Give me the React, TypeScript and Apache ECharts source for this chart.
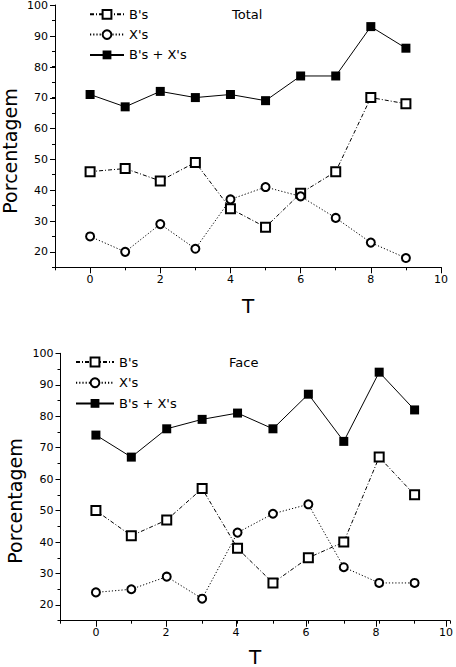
import React, { useEffect, useRef } from "react";
import * as echarts from "echarts";

// ---- data ----
const tValues = [0, 1, 2, 3, 4, 5, 6, 7, 8, 9];
const seriesNames = ["B's", "X's", "B's + X's"];
const panelTitles = ["Total", "Face"];
const totalB = [46, 47, 43, 49, 34, 28, 39, 46, 70, 68];
const totalX = [25, 20, 29, 21, 37, 41, 38, 31, 23, 18];
const totalBX = [71, 67, 72, 70, 71, 69, 77, 77, 93, 86];
const faceB = [50, 42, 47, 57, 38, 27, 35, 40, 67, 55];
const faceX = [24, 25, 29, 22, 43, 49, 52, 32, 27, 27];
const faceBX = [74, 67, 76, 79, 81, 76, 87, 72, 94, 82];
const xRange = [-1, 10];
const xLabelRange = [0, 10];
const yRange = [15, 100];
const yLabelRange = [20, 100];
const yAxisTitle = "Porcentagem";
const xAxisTitle = "T";

const FONT = "'DejaVu Sans', sans-serif";

type Panel = {
  left: number;
  top: number;
  width: number;
  height: number;
  data: number[][];
  title: string;
  titleX: number;
  titleY: number;
  legendLeft: number;
  legendTop: number;
  legendItemWidth: number;
  legendGap: number;
  yTitleX: number;
  yTitleY: number;
  xTitleX: number;
  xTitleY: number;
  xTitleSize: number;
  xLabelMargin: number;
};

const panels: Panel[] = [
  {
    left: 55,
    top: 5,
    width: 386,
    height: 262.3,
    data: [totalB, totalX, totalBX],
    title: panelTitles[0],
    titleX: 232,
    titleY: 14,
    legendLeft: 89,
    legendTop: 7.8,
    legendItemWidth: 34,
    legendGap: 7.3,
    yTitleX: 10,
    yTitleY: 151,
    xTitleX: 248,
    xTitleY: 305.5,
    xTitleSize: 20,
    xLabelMargin: 7,
  },
  {
    left: 60.5,
    top: 353.3,
    width: 389.5,
    height: 267.4,
    data: [faceB, faceX, faceBX],
    title: panelTitles[1],
    titleX: 229,
    titleY: 362,
    legendLeft: 75,
    legendTop: 355.5,
    legendItemWidth: 38,
    legendGap: 7.7,
    yTitleX: 15,
    yTitleY: 501,
    xTitleX: 255,
    xTitleY: 656.5,
    xTitleSize: 20,
    xLabelMargin: 6,
  },
];

const lineStyles = [
  { type: [4, 2, 1, 2], width: 1, color: "#000" },
  { type: [1.2, 2], width: 1, color: "#000" },
  { type: "solid", width: 1, color: "#000" },
];
const symbols = [
  { symbol: "emptyRect", symbolSize: 9, itemStyle: { color: "#000", borderWidth: 1 } },
  { symbol: "emptyCircle", symbolSize: 8, itemStyle: { color: "#000", borderWidth: 1.6 } },
  { symbol: "rect", symbolSize: 9, itemStyle: { color: "#000" } },
];

function buildOption() {
  const grid: any[] = [];
  const xAxis: any[] = [];
  const yAxis: any[] = [];
  const series: any[] = [];
  const legend: any[] = [];
  const graphic: any[] = [];

  const xSpan = xRange[1] - xRange[0];
  const ySpan = yRange[1] - yRange[0];

  panels.forEach((p) => {
    const base = grid.length;
    const unitX = p.width / xSpan;
    const unitY = p.height / ySpan;
    // main grid
    grid.push({ left: p.left, top: p.top, width: p.width, height: p.height, containLabel: false });
    // x overlay grid (major ticks / labels)
    const xl = p.left + (xLabelRange[0] - xRange[0]) * unitX;
    grid.push({
      left: xl,
      top: p.top,
      width: (xLabelRange[1] - xLabelRange[0]) * unitX,
      height: p.height,
    });
    // y overlay grid (major ticks / labels)
    grid.push({
      left: p.left,
      top: p.top + (yRange[1] - yLabelRange[1]) * unitY,
      width: p.width,
      height: (yLabelRange[1] - yLabelRange[0]) * unitY,
    });

    const axisLineStyle = { color: "#000", width: 1 };
    const labelStyle = { color: "#000", fontFamily: FONT, fontSize: 11 };

    // main axes (line + minor ticks)
    xAxis.push({
      gridIndex: base,
      type: "value",
      min: xRange[0],
      max: xRange[1],
      interval: 1,
      axisLine: { show: true, onZero: false, lineStyle: axisLineStyle },
      axisTick: { show: true, length: 3, lineStyle: axisLineStyle },
      axisLabel: { show: false },
      splitLine: { show: false },
    });
    yAxis.push({
      gridIndex: base,
      type: "value",
      min: yRange[0],
      max: yRange[1],
      interval: 5,
      axisLine: { show: true, onZero: false, lineStyle: axisLineStyle },
      axisTick: { show: true, length: 3, lineStyle: axisLineStyle },
      axisLabel: { show: false },
      splitLine: { show: false },
    });
    // x overlay
    xAxis.push({
      gridIndex: base + 1,
      type: "value",
      min: xLabelRange[0],
      max: xLabelRange[1],
      interval: 2,
      axisLine: { show: false, onZero: false },
      axisTick: { show: true, length: 6, lineStyle: axisLineStyle },
      axisLabel: { show: true, margin: p.xLabelMargin, ...labelStyle },
      splitLine: { show: false },
    });
    yAxis.push({
      gridIndex: base + 1,
      type: "value",
      min: yRange[0],
      max: yRange[1],
      show: false,
      splitLine: { show: false },
    });
    // y overlay
    xAxis.push({
      gridIndex: base + 2,
      type: "value",
      min: xRange[0],
      max: xRange[1],
      show: false,
      splitLine: { show: false },
    });
    yAxis.push({
      gridIndex: base + 2,
      type: "value",
      min: yLabelRange[0],
      max: yLabelRange[1],
      interval: 10,
      axisLine: { show: false, onZero: false },
      axisTick: { show: true, length: 5, lineStyle: axisLineStyle },
      axisLabel: { show: true, margin: 7, ...labelStyle },
      splitLine: { show: false },
    });

    seriesNames.forEach((name, si) => {
      series.push({
        name,
        type: "line",
        xAxisIndex: base,
        yAxisIndex: base,
        data: tValues.map((t, i) => [t, p.data[si][i]]),
        lineStyle: lineStyles[si],
        ...symbols[si],
        showAllSymbol: true,
        z: 2 + si,
      });
    });

    legend.push({
      data: seriesNames,
      orient: "vertical",
      left: p.legendLeft,
      top: p.legendTop,
      itemWidth: p.legendItemWidth,
      itemHeight: 11,
      itemGap: p.legendGap,
      padding: 0,
      selectedMode: false,
      textStyle: { color: "#000", fontFamily: FONT, fontSize: 13 },
    });

    graphic.push({
      type: "text",
      x: p.titleX,
      y: p.titleY,
      style: {
        text: p.title,
        font: `13px ${FONT}`,
        fill: "#000",
        textAlign: "left",
        textVerticalAlign: "middle",
      },
    });
    graphic.push({
      type: "text",
      x: p.yTitleX,
      y: p.yTitleY,
      rotation: Math.PI / 2,
      style: {
        text: yAxisTitle,
        font: `19px ${FONT}`,
        fill: "#000",
        textAlign: "center",
        textVerticalAlign: "middle",
      },
    });
    graphic.push({
      type: "text",
      x: p.xTitleX,
      y: p.xTitleY,
      style: {
        text: xAxisTitle,
        font: `${p.xTitleSize}px ${FONT}`,
        fill: "#000",
        textAlign: "center",
        textVerticalAlign: "middle",
      },
    });
  });

  return {
    animation: false,
    backgroundColor: "#fff",
    textStyle: { fontFamily: FONT },
    grid,
    xAxis,
    yAxis,
    series,
    legend,
    graphic,
  };
}

export default function App() {
  const ref = useRef<HTMLDivElement>(null);
  useEffect(() => {
    if (!ref.current) return;
    const chart = echarts.init(ref.current, undefined, { renderer: "svg" });
    chart.setOption(buildOption() as any);
    return () => chart.dispose();
  }, []);
  return (
    <div
      ref={ref}
      style={{ position: "absolute", left: 0, top: 0, width: 456, height: 667, background: "#fff" }}
    />
  );
}
